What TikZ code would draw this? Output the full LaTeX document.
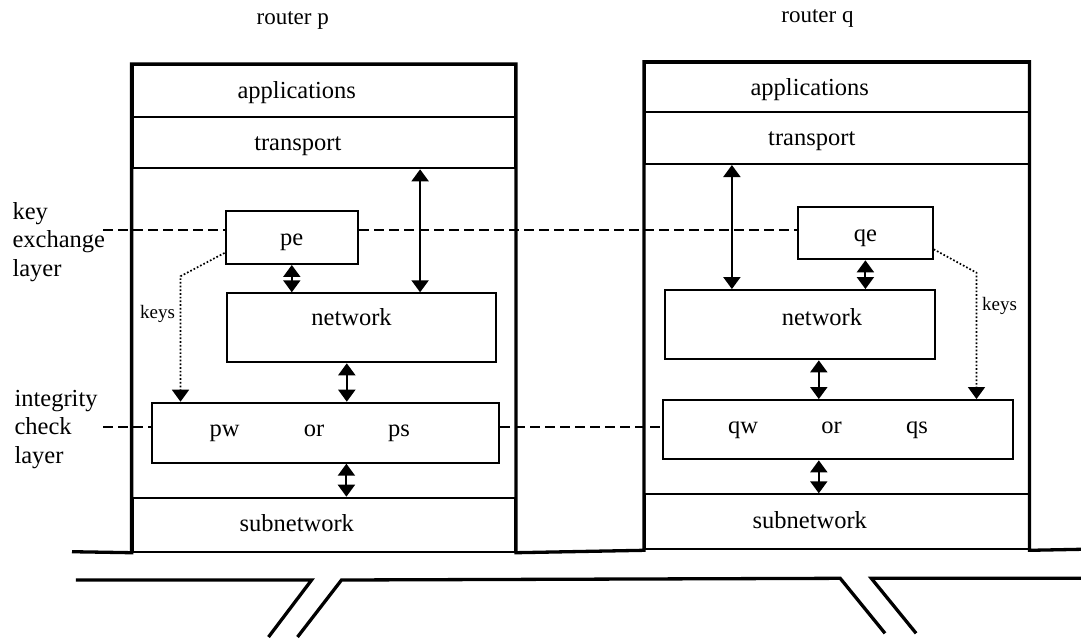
\documentclass[tikz,border=0pt]{standalone}
\usepackage{fontspec}
\setmainfont{Liberation Serif}
\usetikzlibrary{arrows.meta}
\usetikzlibrary{calc}
\tikzset{ll/.style={font=\fontsize{24.5}{28.5}\selectfont}}
\tikzset{l/.style={ll, text height=21pt, text depth=5.4pt}}
\tikzset{m/.style={font=\fontsize{19}{19}\selectfont, text height=15.5pt, text depth=4.2pt}}
\tikzset{rt/.style={font=\fontsize{23}{23}\selectfont, text height=19.5pt, text depth=5pt}}
\tikzset{lay/.style={draw, line width=2pt, inner sep=0pt}}
\tikzset{box/.style={draw, line width=2pt, inner sep=0pt, l}}
\tikzset{dbl/.style={<->, line width=2pt}}
\tikzset{keyline/.style={->, dotted, line width=1.7pt}}
\tikzset{layerline/.style={line width=2pt, dash pattern=on 10pt off 5pt}}
\tikzset{cable/.style={line width=3.3pt, line join=miter}}

\begin{document}
\begin{tikzpicture}[x=1pt, y=-1pt, >={Triangle[width=17pt,length=12pt]}]
  \useasboundingbox (0,0) rectangle (1081,638);
  % router p
  \node[lay, minimum width=382.4pt, minimum height=51.7pt] (appP) at (323.8,90.85) {};
  \node[lay, minimum width=382.4pt, minimum height=51.6pt] (transP) at (323.8,142.5) {};
  \node[lay, minimum width=382.4pt, minimum height=54pt] (subP) at (323.8,524.7) {};
  \node[l] (appPt) at ([xshift=-27pt]appP.center) {applications};
  \node[l] (transPt) at ([xshift=-26pt]transP.center) {transport};
  \node[l] (subPt) at ([xshift=-27pt,yshift=1pt]subP.center) {subnetwork};
  \node[box, minimum width=132.6pt, minimum height=53.3pt] (pe) at (291.8,237.3) {pe};
  \node[box, minimum width=268.6pt, minimum height=69pt] (netP) at (361.6,327.8) {};
  \node[l] (netPt) at ([xshift=-10pt,yshift=10pt]netP.center) {network};
  \node[box, minimum width=347.8pt, minimum height=60pt] (chkP) at (325.4,432.7) {};
  \node[l] (pw) at (224.7,429) {pw};
  \node[l] (orP) at (314,429) {or};
  \node[l] (ps) at (399,429) {ps};
  % router q
  \node[lay, minimum width=383.5pt, minimum height=49pt] (appQ) at (836.75,87.2) {};
  \node[lay, minimum width=383.5pt, minimum height=52.3pt] (transQ) at (836.75,137.85) {};
  \node[lay, minimum width=383.5pt, minimum height=55pt] (subQ) at (836.75,521.8) {};
  \node[l] (appQt) at ([xshift=-27pt]appQ.center) {applications};
  \node[l] (transQt) at ([xshift=-25pt]transQ.center) {transport};
  \node[l] (subQt) at ([xshift=-27pt,yshift=1.5pt]subQ.center) {subnetwork};
  \node[box, minimum width=134.6pt, minimum height=52pt] (qe) at (865.4,233.3) {qe};
  \node[box, minimum width=270.2pt, minimum height=69.3pt] (netQ) at (800,324.7) {};
  \node[l] (netQt) at ([xshift=22pt,yshift=7pt]netQ.center) {network};
  \node[box, minimum width=349.5pt, minimum height=59.3pt] (chkQ) at (838,429.7) {};
  \node[l] (qw) at (743,426) {qw};
  \node[l] (orQ) at (831.6,426) {or};
  \node[l] (qs) at (917,426) {qs};
  % frames and cable
  \draw[line width=3.3pt] (72,551.7) -- (subP.south west) -- (appP.north west)
    -- (appP.north east) -- (subP.south east) -- (subQ.south west)
    -- (appQ.north west) -- (appQ.north east) -- (subQ.south east) -- (1081,549.3);
  \draw[cable] (75.8,580) -- (311.6,580) -- (268.5,637);
  \draw[cable] (297.5,637) -- (341.5,580) -- (840.2,578.3) -- (885,633.3);
  \draw[cable] (916.1,633.3) -- (871.3,578.3) -- (1081,578.3);
  % labels
  \node[rt] (rp) at (292.7,17) {router p};
  \node[rt] (rq) at (817.5,15) {router q};
  \node[ll, align=left, anchor=west] (keyLab) at (9,242) {key\\exchange\\layer};
  \node[ll, align=left, anchor=west] (chkLab) at (11,429.5) {integrity\\check\\layer};
  \node[m] (keysP) at (157.5,313) {keys};
  \node[m] (keysQ) at (999.5,305) {keys};
  % layer lines
  \coordinate (keyL) at (103,229.5);
  \coordinate (chkL) at (103,426.5);
  \draw[layerline] (keyL) -- (keyL -| pe.west);
  \draw[layerline] (keyL -| pe.east) -- (keyL -| qe.west);
  \draw[layerline] (chkL) -- (chkL -| chkP.west);
  \draw[layerline] (chkL -| chkP.east) -- (chkL -| chkQ.west);
  % arrows
  \draw[dbl] (pe.south) -- (pe.south |- netP.north);
  \draw[dbl] ([xshift=96.3pt]transP.south) -- ([xshift=96.3pt]transP.south |- netP.north);
  \draw[dbl] ([xshift=-14.8pt]netP.south) -- ([xshift=-14.8pt]netP.south |- chkP.north);
  \draw[dbl] ([xshift=21pt]chkP.south) -- ([xshift=21pt]chkP.south |- subP.north);
  \draw[dbl] (qe.south) -- (qe.south |- netQ.north);
  \draw[dbl] ([xshift=-104.85pt]transQ.south) -- ([xshift=-104.85pt]transQ.south |- netQ.north);
  \draw[dbl] ([xshift=18.8pt]netQ.south) -- ([xshift=18.8pt]netQ.south |- chkQ.north);
  \draw[dbl] ([xshift=-19.2pt]chkQ.south) -- ([xshift=-19.2pt]chkQ.south |- subQ.north);
  % keys
  \draw[keyline] ([yshift=12pt]pe.south west) -- ++(-44,23.3) coordinate (kP) -- (kP |- chkP.north);
  \draw[keyline] ([yshift=11pt]qe.south east) -- ++(42.8,23.4) coordinate (kQ) -- (kQ |- chkQ.north);
\end{tikzpicture}
\end{document}
